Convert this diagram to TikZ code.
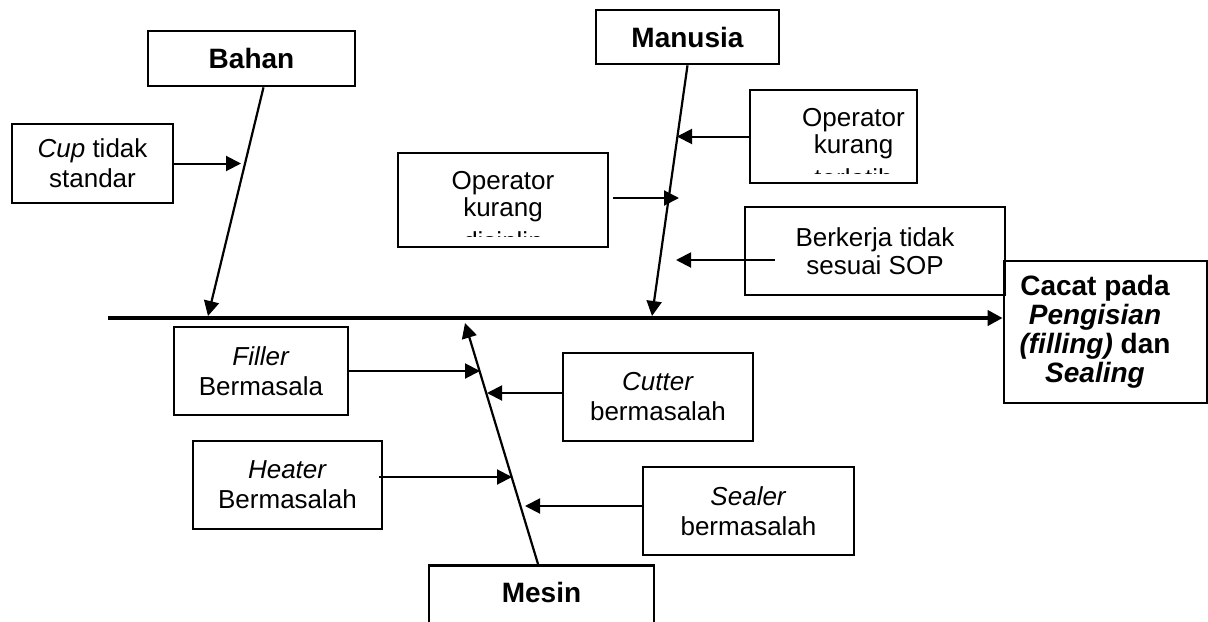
\documentclass[tikz,border=0pt]{standalone}
\usepackage{fontspec}
\setmainfont{Liberation Sans}
\usetikzlibrary{arrows.meta}

\tikzset{
  causebox/.style={draw, line width=1.35pt, inner sep=0pt},
  causetext/.style={align=center, inner sep=0pt, font=\fontsize{13}{15}\selectfont},
  optext/.style={causetext, font=\fontsize{13}{13.5}\selectfont},
  headbox/.style={draw, line width=1.35pt, align=center, inner sep=0pt, font=\fontsize{14}{14.5}\selectfont\bfseries},
  spine/.style={line width=1.1pt, -{Triangle[length=7.5pt,width=7.5pt]}},
  branch/.style={line width=1pt, -{Triangle[length=7.5pt,width=7.5pt]}},
  mainline/.style={line width=2pt, -{Triangle[length=7.5pt,width=7.5pt]}},
}

\begin{document}
\begin{tikzpicture}[x=0.5pt,y=-0.5pt]
\useasboundingbox (0,0) rectangle (1208,621);
\clip (0,0) rectangle (1208,621);

\node[causebox, minimum width=101.5pt, minimum height=71pt] (effect) at (1105.5,332) {};
\node[headbox, draw=none] (effecttext) at (1095,332) {Cacat pada\\\textit{Pengisian}\\\textit{(filling)} dan\\\textit{Sealing}};
\coordinate (tail) at (108,318);
\draw[mainline] (tail) -- (tail -| effect.west);

\node[headbox, minimum width=103.5pt, minimum height=27.5pt] (bahan) at (251.5,58.5) {Bahan};
\node[causebox, causetext, minimum width=80.5pt, minimum height=39.5pt] (cup) at (92.5,163.5) {\textit{Cup} tidak\\standar};
\coordinate (bahanend) at (208,316);
\coordinate (cuptip) at (241,163.5);
\draw[spine] ([xshift=6pt]bahan.south) -- (bahanend);
\draw[branch] (cup.east) -- (cuptip);

\node[headbox, minimum width=91.5pt, minimum height=27pt] (manusia) at (687.5,37) {Manusia};
\node[causebox, minimum width=83.5pt, minimum height=46.5pt] (terlatih) at (833.5,136.5) {};
\begin{scope}
\clip (752,92) rectangle (915,173);
\node[optext, anchor=north] (terlatihtext) at (853.5,108) {Operator\\kurang\\[3.5pt]terlatih};
\end{scope}
\node[causebox, minimum width=105pt, minimum height=47pt] (disiplin) at (503,200) {};
\begin{scope}
\clip (400,155) rectangle (606,236);
\node[optext, anchor=north] (disiplintext) at (503,170.5) {Operator\\kurang\\[3.5pt]disiplin};
\end{scope}
\node[causebox, causetext, font=\fontsize{13}{14}\selectfont, minimum width=130pt, minimum height=44pt] (sop) at (875,251) {Berkerja tidak\\sesuai SOP};
\coordinate (manend) at (652,316);
\coordinate (terlatihtip) at (677,136.5);
\coordinate (disiplintip) at (679,198);
\coordinate (soptip) at (676,260);
\draw[spine] (manusia.south) -- (manend);
\draw[branch] (terlatih.west) -- (terlatihtip);
\draw[branch] ([shift={(4,-2)}]disiplin.east) -- (disiplintip);
\draw[branch] ([shift={(31,9)}]sop.west) -- (soptip);

\node[causebox, minimum width=112.5pt, minimum height=40pt, anchor=north] (mesin) at (541.5,564) {};
\node[headbox, draw=none] (mesintext) at (541.5,592) {Mesin};
\node[causebox, causetext, minimum width=87pt, minimum height=44pt] (filler) at (261,371) {\textit{Filler}\\Bermasala};
\node[causebox, causetext, minimum width=95pt, minimum height=44pt] (cutter) at (658,397) {\textit{Cutter}\\bermasalah};
\node[causebox, causetext, minimum width=94.5pt, minimum height=44pt] (heater) at (287.5,485) {\textit{Heater}\\Bermasalah};
\node[causebox, causetext, minimum width=105.5pt, minimum height=44pt] (sealer) at (748.5,511) {\textit{Sealer}\\bermasalah};
\coordinate (mesinend) at (465,323);
\coordinate (fillertip) at (480,371);
\coordinate (cuttertip) at (487,393);
\coordinate (heatertip) at (512,477);
\coordinate (sealertip) at (525,506);
\draw[spine] ([xshift=-1.75pt]mesin.north) -- (mesinend);
\draw[branch] (filler.east) -- (fillertip);
\draw[branch] ([yshift=2pt]cutter.west) -- (cuttertip);
\draw[branch] ([shift={(-4,-8)}]heater.east) -- (heatertip);
\draw[branch] ([yshift=2.5pt]sealer.west) -- (sealertip);
\end{tikzpicture}
\end{document}
